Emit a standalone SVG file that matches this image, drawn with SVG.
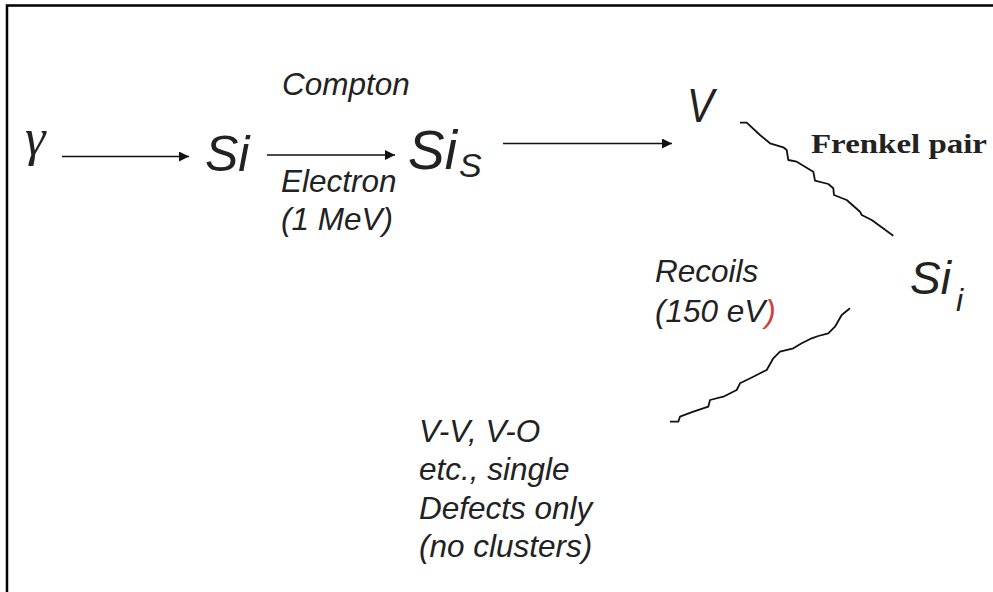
<svg xmlns="http://www.w3.org/2000/svg" width="993" height="592" viewBox="0 0 993 592">
<defs>
<style>
.t{font-family:"Liberation Sans",Arial,sans-serif;font-style:italic;fill:#222}
.lab{font-size:31.5px}
.edge{stroke:#111;stroke-width:1.6;fill:none}
.wave{stroke:#111;stroke-width:1.8;fill:none;stroke-linejoin:round}
</style>
<marker id="ah" viewBox="0 0 10 10" refX="10" refY="5" markerWidth="12" markerHeight="10" markerUnits="userSpaceOnUse" orient="auto">
<path d="M0,0 L10,5 L0,10 z" fill="#111"/>
</marker>
</defs>
<rect width="993" height="592" fill="#fff"/>
<path d="M7,592 L7,5.5 L993,5.5" stroke="#000" stroke-width="2.5" fill="none"/>
<g id="connectors">
<line class="edge" x1="62" y1="156.5" x2="189" y2="156.5" marker-end="url(#ah)"/>
<line class="edge" x1="267" y1="155" x2="395" y2="155" marker-end="url(#ah)"/>
<line class="edge" x1="503" y1="143.5" x2="672" y2="143.5" marker-end="url(#ah)"/>
<polyline class="wave" points="740,122.7 746.7,122.7 760,135 770,143.3 783.3,147.3 786.7,150 788.3,160 796.7,161.7 813.3,171.7 815,180.7 828.3,184 833.3,188.3 834,195 846.7,200 860,211.7 861.7,215 871.7,220 893.3,235.7"/>
<polyline class="wave" points="670,421.7 678.3,421.7 680,416.7 693.3,411.7 708.3,406.7 710,400 723.3,396.7 736.7,390 740,383.3 753.3,376.7 766.7,370 773.3,358.3 780,351.7 793.3,348.3 801.7,343.3 811.7,338.3 818.3,336 828.3,333.3 835,326.7 841.7,315 850,308.3"/>
</g>
<g id="gamma"><text x="25" y="155" font-family="'Liberation Serif','Times New Roman',serif" font-style="italic" font-size="52" fill="#222">γ</text></g>
<g id="si"><text class="t" x="205" y="171" font-size="50">Si</text></g>
<g id="compton-label">
<text class="t lab" x="282" y="95">Compton</text>
<text class="t lab" x="281" y="192">Electron</text>
<text class="t lab" x="281" y="230">(1 MeV)</text>
</g>
<g id="si-s"><text class="t" x="408" y="169" font-size="55">Si<tspan font-size="34" dx="2" dy="8">S</tspan></text></g>
<g id="v"><text class="t" x="687" y="122" font-size="48" textLength="27" lengthAdjust="spacingAndGlyphs">V</text></g>
<g id="frenkel"><text x="811" y="153" font-family="'Liberation Serif','Times New Roman',serif" font-weight="bold" font-size="27" fill="#222" textLength="176" lengthAdjust="spacingAndGlyphs">Frenkel pair</text></g>
<g id="si-i"><text class="t" x="910" y="294" font-size="46">Si<tspan font-size="32" dx="5" dy="17">i</tspan></text></g>
<g id="recoils">
<text class="t lab" x="655" y="282">Recoils</text>
<text class="t lab" x="655" y="322">(150 eV<tspan fill="#d04040">)</tspan></text>
</g>
<g id="defects">
<text class="t lab" x="419" y="442">V-V, V-O</text>
<text class="t lab" x="419" y="480">etc., single</text>
<text class="t lab" x="419" y="519">Defects only</text>
<text class="t lab" x="419" y="557">(no clusters)</text>
</g>
</svg>
